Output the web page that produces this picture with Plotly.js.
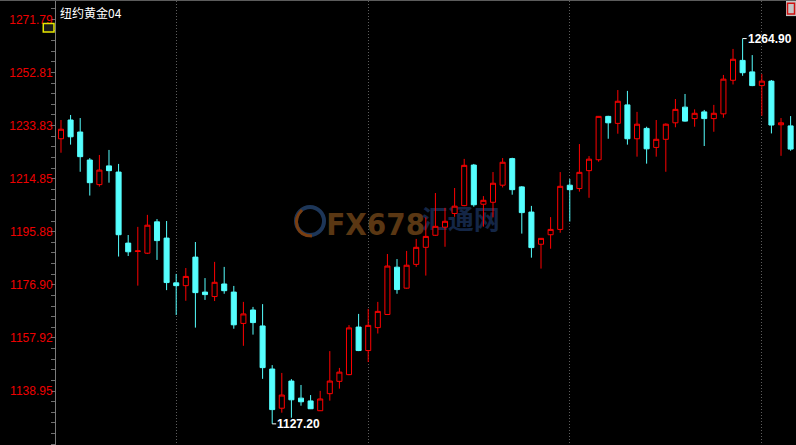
<!DOCTYPE html>
<html>
<head>
<meta charset="utf-8">
<script src="https://cdn.plot.ly/plotly-3.0.1.min.js"></script>
<style>
  html, body { margin: 0; padding: 0; background: #000; }
  #frame { width: 796px; height: 445px; border-top: 1px solid #5c5c5c; box-sizing: border-box; }
  #chart { width: 796px; height: 444px; }
</style>
</head>
<body>
<div id="frame"><div id="chart"></div></div>
<script>
// Daily sessions, oldest first
const opens = [
  1229.1, 1235.8, 1231.5, 1221.5, 1212.7, 1219.4, 1217.2, 1191.8, 1188.8, 1188.2,
  1199.4, 1193.6, 1177.6, 1176.6, 1186.8, 1174.3, 1172.7, 1177.2, 1174.3, 1163.1,
  1167.9, 1162.2, 1146.8, 1132.8, 1142.5, 1136.4, 1135.4, 1131.9, 1138.0, 1142.4,
  1144.8, 1161.8, 1153.4, 1161.6, 1166.3, 1183.2, 1175.7, 1184.2, 1190.3, 1194.6,
  1197.5, 1202.4, 1205.2, 1219.7, 1205.7, 1206.4, 1212.5, 1222.0, 1211.9, 1202.9,
  1191.4, 1194.8, 1196.7, 1212.5, 1211.3, 1217.7, 1221.6, 1237.1, 1234.6, 1241.2,
  1229.1, 1232.8, 1226.0, 1228.9, 1234.8, 1240.4, 1236.3, 1238.7, 1236.3, 1238.0,
  1250.0, 1257.1, 1253.0, 1248.1, 1249.7, 1234.1, 1233.7
];
const highs = [
  1235.8, 1237.6, 1236.5, 1222.2, 1223.3, 1225.1, 1220.1, 1194.7, 1197.6, 1201.9,
  1200.4, 1199.7, 1180.8, 1182.9, 1192.2, 1179.3, 1185.1, 1183.3, 1176.5, 1170.8,
  1169.0, 1170.0, 1148.2, 1145.4, 1143.2, 1141.1, 1137.5, 1139.0, 1153.2, 1147.2,
  1162.5, 1166.5, 1168.3, 1170.8, 1187.9, 1186.1, 1189.0, 1193.3, 1201.0, 1209.7,
  1204.4, 1211.5, 1221.9, 1220.1, 1208.6, 1217.2, 1222.2, 1222.3, 1212.2, 1205.1,
  1193.6, 1201.1, 1217.2, 1214.7, 1227.2, 1222.9, 1237.2, 1237.3, 1246.5, 1246.2,
  1238.7, 1233.4, 1235.8, 1234.6, 1243.3, 1245.1, 1239.6, 1239.4, 1241.2, 1251.9,
  1261.2, 1264.9, 1259.0, 1252.2, 1250.1, 1236.5, 1237.2
];
const lows = [
  1224.1, 1227.0, 1217.3, 1208.8, 1212.0, 1213.4, 1187.0, 1187.2, 1176.6, 1187.9,
  1185.8, 1175.0, 1166.1, 1171.2, 1161.6, 1171.5, 1171.1, 1173.7, 1161.2, 1155.1,
  1159.1, 1143.3, 1127.2, 1131.2, 1129.4, 1133.7, 1132.5, 1131.8, 1135.5, 1139.8,
  1144.6, 1153.2, 1149.3, 1159.5, 1166.2, 1173.7, 1175.5, 1183.3, 1180.2, 1194.4,
  1190.5, 1201.2, 1205.0, 1204.8, 1197.7, 1201.0, 1211.7, 1209.1, 1195.2, 1186.6,
  1182.7, 1189.8, 1195.5, 1199.5, 1210.2, 1208.0, 1220.9, 1229.1, 1230.9, 1227.0,
  1222.7, 1220.2, 1222.7, 1217.3, 1233.2, 1235.2, 1233.4, 1226.5, 1231.6, 1236.6,
  1248.5, 1251.6, 1247.9, 1237.3, 1231.0, 1223.0, 1224.8
];
const closes = [
  1232.5, 1229.8, 1222.7, 1213.4, 1217.9, 1217.7, 1194.8, 1188.7, 1189.0, 1198.2,
  1192.7, 1177.7, 1176.6, 1179.9, 1174.1, 1173.4, 1177.8, 1174.8, 1162.6, 1166.5,
  1163.4, 1147.3, 1132.3, 1137.5, 1135.8, 1135.1, 1132.6, 1136.1, 1142.5, 1145.7,
  1161.5, 1153.4, 1162.4, 1167.4, 1183.6, 1175.2, 1183.9, 1190.3, 1194.2, 1197.8,
  1199.6, 1205.0, 1219.6, 1205.5, 1207.1, 1213.2, 1220.7, 1210.9, 1202.7, 1190.2,
  1193.5, 1196.7, 1212.1, 1210.9, 1217.1, 1221.8, 1237.1, 1234.8, 1242.5, 1229.1,
  1234.3, 1225.5, 1228.9, 1234.3, 1239.6, 1235.4, 1238.2, 1236.3, 1238.2, 1250.4,
  1257.5, 1252.7, 1248.1, 1249.7, 1234.0, 1234.8, 1225.4
];

// Price scale labels and period separators (session index)
const priceTicks = [1138.95, 1157.92, 1176.90, 1195.88, 1214.85, 1233.83, 1252.81, 1271.79];
const periodBreaks = [12, 32, 53, 73];
const chartTitle = '纽约黄金04';
const watermarkLatin = 'FX678';
const watermarkHan = '汇通网';

const sessions = opens.map((_, i) => i);

// Extremes shown as markers on the chart
let hiIdx = 0, loIdx = 0;
highs.forEach((v, i) => { if (v > highs[hiIdx]) hiIdx = i; });
lows.forEach((v, i) => { if (v < lows[loIdx]) loIdx = i; });

const UP = '#ff0000';
const DOWN = '#55ffff';
const GRID = '#5c5c5c';

const trace = {
  type: 'candlestick',
  x: sessions,
  open: opens, high: highs, low: lows, close: closes,
  increasing: { line: { color: UP, width: 1 }, fillcolor: '#000000' },
  decreasing: { line: { color: DOWN, width: 1 }, fillcolor: DOWN },
  whiskerwidth: 0,
  hoverinfo: 'skip',
  showlegend: false
};

const yRange = [1119.65, 1278.33];
const labelFont = { family: 'Liberation Sans, Arial, sans-serif', size: 12, color: '#ffffff', weight: 'bold' };

const layout = {
  width: 796, height: 444,
  margin: { l: 56, r: 0, t: 0, b: 0 },
  paper_bgcolor: '#000000',
  plot_bgcolor: '#000000',
  showlegend: false,
  boxgap: 0.25,
  xaxis: {
    range: [-0.52, 76.56],
    tickmode: 'array', tickvals: periodBreaks,
    showticklabels: false, ticks: '',
    showgrid: true, gridcolor: GRID, griddash: '1px,2px', gridwidth: 1,
    zeroline: false, showline: false,
    rangeslider: { visible: false },
    fixedrange: true
  },
  yaxis: {
    range: yRange, side: 'left',
    tickmode: 'array', tickvals: priceTicks,
    ticktext: priceTicks.map(v => v.toFixed(2)),
    tickfont: { family: 'Liberation Sans, Arial, sans-serif', size: 12, color: '#ee0000' },
    ticks: '', ticklen: 0,
    showgrid: false, zeroline: false,
    showline: true, linecolor: '#7a7a7a', linewidth: 1,
    minor: {
      tickmode: 'linear', tick0: priceTicks[0], dtick: (priceTicks[1] - priceTicks[0]) / 5,
      ticks: 'outside', ticklen: 4, tickcolor: '#6e6e6e', tickwidth: 1, showgrid: false
    },
    fixedrange: true
  },
  yaxis2: {
    overlaying: 'y', anchor: 'x', side: 'left',
    range: yRange,
    tickmode: 'array', tickvals: priceTicks.slice(0, -1),
    showticklabels: false, ticks: '',
    showgrid: true, gridcolor: GRID, griddash: '1px,2px', gridwidth: 1,
    zeroline: false, showline: false, fixedrange: true
  },
  yaxis3: {
    overlaying: 'y', anchor: 'x', side: 'left',
    range: yRange,
    tickmode: 'array', tickvals: priceTicks.slice(-1),
    showticklabels: false, ticks: '',
    showgrid: true, gridcolor: '#686868', griddash: '4px,3px', gridwidth: 1,
    zeroline: false, showline: false, fixedrange: true
  },
  shapes: [
    // watermark: swirl badge
    { type: 'circle', xref: 'paper', yref: 'paper', layer: 'below',
      x0: 0.3243, x1: 0.3622, y0: 0.473, y1: 0.536,
      line: { color: '#1d3658', width: 4 }, fillcolor: 'rgba(0,0,0,0)' },
    { type: 'path', xref: 'paper', yref: 'paper', layer: 'below',
      path: 'M0.3324,0.5293 C0.3189,0.5068 0.3243,0.4707 0.3459,0.4707',
      line: { color: '#7a3e10', width: 3 } },
    // watermark: wordmark
    { type: 'rect', xref: 'paper', yref: 'paper', layer: 'below',
      x0: 0.38, x1: 0.484, y0: 0.47, y1: 0.535,
      line: { width: 0 }, fillcolor: 'rgba(0,0,0,0)',
      label: { text: watermarkLatin, textposition: 'middle center',
        font: { family: 'DejaVu Sans Condensed, DejaVu Sans, sans-serif', size: 31, color: '#5a3713', weight: 'bold' } } },
    { type: 'rect', xref: 'paper', yref: 'paper', layer: 'below',
      x0: 0.494, x1: 0.6, y0: 0.47, y1: 0.535,
      line: { width: 0 }, fillcolor: 'rgba(0,0,0,0)',
      label: { text: watermarkHan, textposition: 'middle center',
        font: { family: 'Noto Sans CJK SC, sans-serif', size: 26, color: '#142646', weight: 'bold' } } },
    // toolbar badge under the top price label
    { type: 'rect', xref: 'paper', yref: 'paper',
      x0: -0.0172, x1: -0.0027, y0: 0.9302, y1: 0.9493,
      line: { color: '#e6e600', width: 1.5 }, fillcolor: '#1a1a1a' },
    // window button, top right
    { type: 'rect', xref: 'paper', yref: 'paper',
      x0: 0.9865, x1: 1.0, y0: 0.966, y1: 1.0,
      line: { width: 0 }, fillcolor: '#c4c4c4' },
    { type: 'rect', xref: 'paper', yref: 'paper',
      x0: 0.9885, x1: 0.998, y0: 0.971, y1: 0.995,
      line: { color: '#d01010', width: 1.5 }, fillcolor: 'rgba(0,0,0,0)' }
  ],
  annotations: [
    // instrument name, top-left of the price pane
    { xref: 'paper', yref: 'paper', x: 0, y: 1, xanchor: 'left', yanchor: 'top',
      xshift: 2, yshift: -1, showarrow: false, text: chartTitle,
      font: { family: 'Noto Sans CJK SC, sans-serif', size: 12, color: '#ffffff' } },
    { x: hiIdx, y: highs[hiIdx], xref: 'x', yref: 'y',
      text: highs[hiIdx].toFixed(2), font: labelFont,
      showarrow: true, arrowhead: 0, arrowwidth: 1, arrowcolor: '#ffffff',
      ax: 4, ay: 0, xanchor: 'left', yanchor: 'middle', standoff: 0, startstandoff: 0, borderpad: 0 },
    { x: loIdx, y: lows[loIdx], xref: 'x', yref: 'y',
      text: lows[loIdx].toFixed(2), font: labelFont,
      showarrow: true, arrowhead: 0, arrowwidth: 1, arrowcolor: '#ffffff',
      ax: 4, ay: 0, xanchor: 'left', yanchor: 'middle', standoff: 0, startstandoff: 0, borderpad: 0 }
  ]
};

Plotly.newPlot('chart', [trace], layout, { staticPlot: true, displayModeBar: false });
</script>
</body>
</html>
